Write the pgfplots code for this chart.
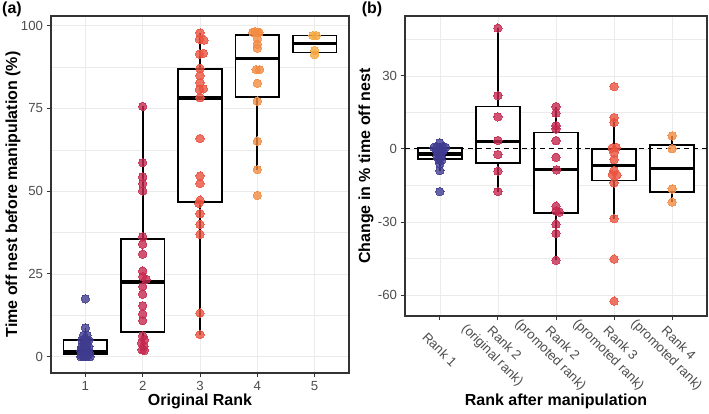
\documentclass[border=0pt]{standalone}
\usepackage{fontspec}
\setmainfont{Liberation Sans}
\usepackage{pgfplots}
\pgfplotsset{compat=1.18}
\usepgfplotslibrary{statistics}
\definecolor{c1}{HTML}{3F3B8F}
\definecolor{c2}{HTML}{C52A4F}
\definecolor{c3}{HTML}{EA533F}
\definecolor{c4}{HTML}{F38B42}
\definecolor{c5}{HTML}{F4A840}
\definecolor{gridc}{HTML}{EBEBEB}
\definecolor{framec}{HTML}{333333}
\definecolor{ticktext}{HTML}{4D4D4D}
\pgfplotsset{
  gg/.style={
    anchor=south west, scale only axis,
    axis line style={draw=framec, line width=1.1pt},
    grid=both,
    major grid style={draw=gridc, line width=0.6pt},
    minor grid style={draw=gridc, line width=0.35pt},
    tick style={draw=framec, line width=1pt},
    major tick length=4.5pt, minor tick length=0pt,
    tick align=outside, tick pos=left,
    tick label style={font=\fontsize{13.2}{16.5}\selectfont, text=ticktext},
    /pgf/number format/assume math mode=true,
    boxplot/draw direction=y,
    boxplot/every median/.style={line width=3.6pt},
    clip=false,
  },
  bx/.style={black, line width=1.7pt, fill=white},
  pts/.style={only marks, color=#1, mark=*, mark size=4.2pt, mark options={draw=#1, fill=#1, line width=0pt, opacity=0.8}},
}
\begin{document}
\begin{tikzpicture}
\useasboundingbox (0pt,0pt) rectangle (709pt,414pt);
\node[font=\bfseries\fontsize{16}{18}\selectfont] at (12pt,405pt) {(a)};
\node[font=\bfseries\fontsize{16}{18}\selectfont] at (372pt,405pt) {(b)};
% ---------- panel (a)
\begin{axis}[gg, at={(51pt,41pt)}, width=298pt, height=357pt,
  xmin=0.4, xmax=5.6, ymin=-4.9, ymax=102.9,
  xtick={1,2,3,4,5}, ytick={0,25,50,75,100},
  minor ytick={12.5,37.5,62.5,87.5},
  every axis x label/.style={at={(axis description cs:0.5,0)}, yshift=-28pt, anchor=center, font=\bfseries\fontsize{16}{18}\selectfont},
  every axis y label/.style={at={(axis description cs:0,0.5)}, xshift=-38pt, rotate=90, anchor=center, font=\bfseries\fontsize{16}{18}\selectfont},
  xlabel={Original Rank}, ylabel={Time off nest before manipulation (\%)}]
\addplot[bx, boxplot prepared={draw position=1, lower whisker=0, lower quartile=0.9, median=1.5, upper quartile=5.1, upper whisker=8.7, box extend=0.76, whisker extend=0}] coordinates {};
\addplot[bx, boxplot prepared={draw position=2, lower whisker=2.1, lower quartile=7.4, median=22.5, upper quartile=35.5, upper whisker=75.6, box extend=0.76, whisker extend=0}] coordinates {};
\addplot[bx, boxplot prepared={draw position=3, lower whisker=6.7, lower quartile=46.8, median=78.2, upper quartile=86.9, upper whisker=97.8, box extend=0.76, whisker extend=0}] coordinates {};
\addplot[bx, boxplot prepared={draw position=4, lower whisker=56.5, lower quartile=78.4, median=90.1, upper quartile=97.2, upper whisker=98.0, box extend=0.76, whisker extend=0}] coordinates {};
\addplot[bx, boxplot prepared={draw position=5, lower whisker=91.6, lower quartile=91.9, median=94.6, upper quartile=97.0, upper whisker=97.0, box extend=0.76, whisker extend=0}] coordinates {};
\addplot[pts=c1] coordinates {(1,17.5)(1,8.7)(0.97,6.5)(1.03,6.5)(0.94,5)(1.0,5)(1.06,5)(0.97,4)(1.03,4)(0.94,3)(1.0,3)(1.06,3)(0.92,2)(0.98,2)(1.04,2)(0.95,1.2)(1.01,1.2)(1.07,1.2)(0.93,0.5)(0.99,0.5)(1.05,0.5)(0.92,0)(0.97,0)(1.02,0)(1.08,0)};
\addplot[pts=c2] coordinates {(2,75.6)(2,58.6)(2,54.3)(2,52.3)(2,50.1)(2,36.2)(2,34.0)(2,31.0)(2,25.9)(2,24.2)(2.06,23.4)(2,21.2)(2,18.9)(2,15.4)(2,12.9)(2,10.9)(2,6.3)(2.03,5.1)(1.98,4.2)(2.02,3.2)(1.99,2.1)(2.03,1.9)};
\addplot[pts=c3] coordinates {(3,97.8)(2.99,95.9)(3.07,95.6)(2.99,91.4)(3.06,91.6)(3,87.1)(3,84.9)(3,82.7)(2.99,80.7)(3.06,80.9)(3,78.2)(3,65.9)(3,54.6)(3,52.3)(3,47.3)(2.98,46.3)(3,43.2)(3,40.0)(3,37.0)(3,13.2)(3,6.7)};
\addplot[pts=c4] coordinates {(3.92,98)(3.96,98.2)(4.0,97.8)(4.03,98)(4,96)(4,94.4)(4,93.2)(3.98,86.7)(4.04,86.7)(4,82.6)(4,77.2)(4,65.1)(4,56.5)(4,48.7)};
\addplot[pts=c5] coordinates {(4.97,97)(5.03,97)(5.0,92.5)(5.0,91.2)};
\end{axis}
% ---------- panel (b)
\begin{axis}[gg, at={(405pt,98pt)}, width=302pt, height=300pt,
  xmin=0.4, xmax=5.6, ymin=-68.6, ymax=54.6,
  xtick={1,2,3,4,5},
  xticklabels={Rank 1,{Rank 2\\(original rank)},{Rank 2\\(promoted rank)},{Rank 3\\(promoted rank)},{Rank 4\\(promoted rank)}},
  xticklabel style={rotate=-45, anchor=center, align=center},
  xticklabel shift=29pt,
  ytick={-60,-30,0,30}, minor ytick={-45,-15,15,45},
  every axis x label/.style={at={(axis description cs:0.5,0)}, yshift=-85pt, anchor=center, font=\bfseries\fontsize{16}{18}\selectfont},
  every axis y label/.style={at={(axis description cs:0,0.5)}, xshift=-39pt, rotate=90, anchor=center, font=\bfseries\fontsize{16}{18}\selectfont},
  xlabel={Rank after manipulation}, ylabel={Change in \% time off nest}]
\addplot[bx, boxplot prepared={draw position=1, lower whisker=-8.9, lower quartile=-4.1, median=-2.0, upper quartile=0.4, upper whisker=2.5, box extend=0.76, whisker extend=0}] coordinates {};
\addplot[bx, boxplot prepared={draw position=2, lower whisker=-17.5, lower quartile=-5.7, median=3.1, upper quartile=17.4, upper whisker=49.6, box extend=0.76, whisker extend=0}] coordinates {};
\addplot[bx, boxplot prepared={draw position=3, lower whisker=-45.7, lower quartile=-26.2, median=-8.4, upper quartile=6.8, upper whisker=17.4, box extend=0.76, whisker extend=0}] coordinates {};
\addplot[bx, boxplot prepared={draw position=4, lower whisker=-28.6, lower quartile=-13.0, median=-6.8, upper quartile=0.1, upper whisker=12.9, box extend=0.76, whisker extend=0}] coordinates {};
\addplot[bx, boxplot prepared={draw position=5, lower whisker=-21.8, lower quartile=-17.7, median=-8.0, upper quartile=1.6, upper whisker=5.4, box extend=0.76, whisker extend=0}] coordinates {};
\addplot[black, line width=1pt, dash pattern=on 5pt off 4pt] coordinates {(0.4,0)(5.6,0)};
\addplot[pts=c1] coordinates {(1,2.5)(0.9,0.7)(0.95,0.8)(1.0,0.7)(1.05,0.8)(1.1,0.7)(0.94,-0.7)(1.0,-0.5)(1.06,-0.7)(0.97,-1.8)(1.03,-1.6)(0.95,-3)(1.02,-3.2)(0.98,-4.4)(1.03,-4.6)(1.0,-6)(1,-8.9)(1,-17.5)};
\addplot[pts=c2] coordinates {(2,49.6)(2,21.9)(2,13.2)(2,3.5)(2,-2.3)(2,-9.1)(2,-17.5)};
\addplot[pts=c2] coordinates {(3,17.4)(3,14.7)(3,9.5)(3,8.2)(3,3.4)(3,-3.4)(3.01,-8.6)(3,-23.5)(3,-25.5)(3.06,-25.9)(3,-30.9)(3,-34.7)(3,-45.7)};
\addplot[pts=c3] coordinates {(4,25.6)(4,12.9)(4,10.9)(3.97,0.4)(4.04,0.6)(4,-1.6)(4,-4.4)(4,-8.9)(3.97,-10.5)(4.05,-10.7)(4,-13.9)(4,-28.6)(4,-45.2)(4,-62.5)};
\addplot[pts=c4] coordinates {(5,5.4)(5,0.1)(5,-16.4)(5,-21.8)};
\end{axis}
\end{tikzpicture}
\end{document}
